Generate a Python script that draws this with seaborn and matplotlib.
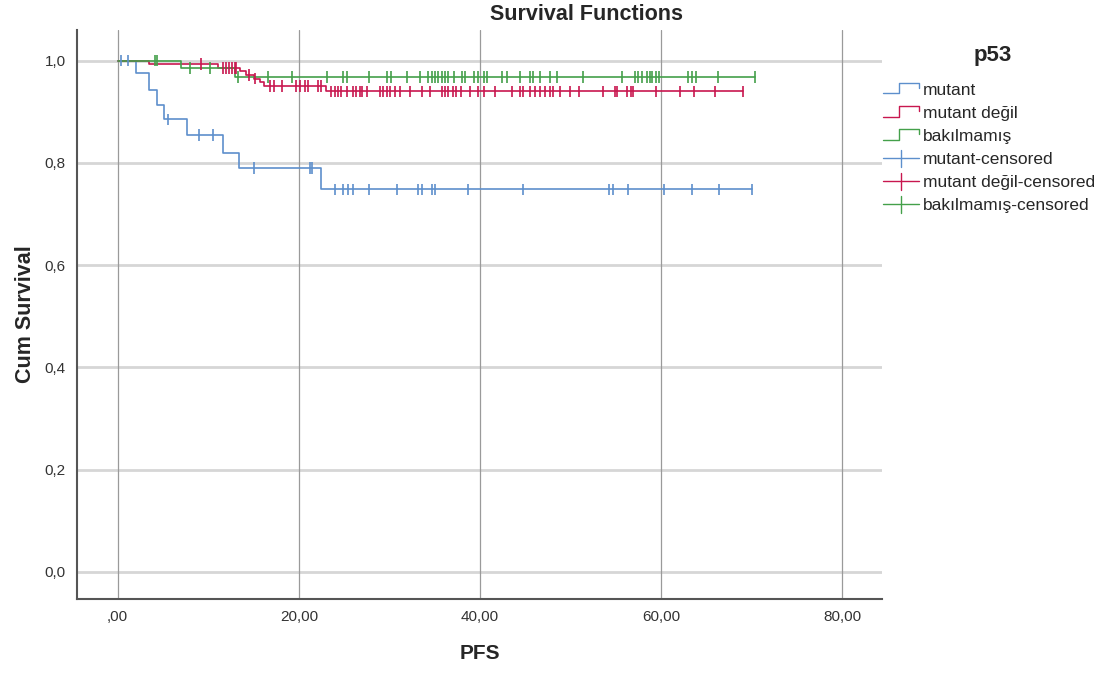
import numpy as np
import pandas as pd
import matplotlib
matplotlib.use("Agg")
import matplotlib.pyplot as plt
import seaborn as sns
from matplotlib.lines import Line2D
from matplotlib.legend_handler import HandlerBase

# ---------------- data ----------------
groups = ["mutant", "mutant değil", "bakılmamış"]

mutant_step_t = [0.0, 2.0, 3.5, 4.3, 5.1, 7.7, 11.6, 13.4, 22.4]
mutant_step_s = [1.0, 0.976, 0.943, 0.914, 0.885, 0.855, 0.819, 0.790, 0.748]
mutant_end = 70.0
mutant_cens = [0.4, 1.1, 5.6, 9.0, 10.5, 15.1, 21.2, 21.4, 24.0, 24.9, 25.4, 26.0,
               27.8, 30.8, 33.2, 33.6, 34.7, 35.0, 38.7, 44.8, 54.3, 54.7, 56.3,
               60.3, 63.4, 66.4, 70.0]

degil_step_t = [0.0, 3.5, 11.1, 13.5, 14.2, 15.0, 15.7, 16.1, 23.0]
degil_step_s = [1.0, 0.994, 0.986, 0.979, 0.972, 0.965, 0.958, 0.950, 0.940]
degil_end = 69.1
degil_cens = [9.2, 11.6, 12.0, 12.3, 12.6, 12.9, 13.1, 14.5, 15.2, 16.8, 17.3, 18.1,
              19.7, 20.1, 20.7, 21.0, 22.1, 22.5, 23.6, 24.0, 24.3, 24.7, 25.3,
              26.0, 26.3, 26.7, 27.0, 27.5, 29.0, 29.3, 29.7, 30.1, 30.6, 31.2,
              32.3, 33.6, 34.5, 35.8, 36.1, 36.5, 37.0, 37.4, 37.9, 38.9, 39.8,
              40.4, 41.7, 43.5, 44.4, 44.8, 45.5, 46.1, 46.6, 47.2, 47.7, 48.1,
              48.8, 49.9, 50.9, 53.6, 54.9, 55.1, 56.2, 56.7, 56.9, 59.4, 62.1,
              63.6, 65.9, 69.1]

bak_step_t = [0.0, 7.0, 13.0]
bak_step_s = [1.0, 0.986, 0.968]
bak_end = 70.4
bak_cens = [4.1, 4.3, 8.0, 10.2, 13.3, 16.6, 19.2, 23.1, 24.9, 25.3, 27.8, 29.7,
            30.2, 31.9, 33.4, 34.3, 34.7, 35.0, 35.4, 35.8, 36.1, 36.5, 37.1,
            38.0, 38.3, 39.3, 39.8, 40.4, 40.8, 42.4, 43.0, 44.4, 45.5, 45.9,
            46.6, 47.7, 48.5, 51.4, 55.7, 57.1, 57.5, 57.9, 58.4, 58.8, 59.0,
            59.4, 59.8, 63.0, 63.4, 63.9, 66.3, 70.4]

x_ticks = [0, 20, 40, 60, 80]
x_ticklabels = [",00", "20,00", "40,00", "60,00", "80,00"]
y_ticks = [0.0, 0.2, 0.4, 0.6, 0.8, 1.0]
y_ticklabels = ["0,0", "0,2", "0,4", "0,6", "0,8", "1,0"]

colors = {"mutant": "#5d8fcc", "mutant değil": "#c8174f", "bakılmamış": "#44a04a"}

# ---------------- build frames ----------------
step_defs = {
    "mutant": (mutant_step_t, mutant_step_s, mutant_end, mutant_cens),
    "mutant değil": (degil_step_t, degil_step_s, degil_end, degil_cens),
    "bakılmamış": (bak_step_t, bak_step_s, bak_end, bak_cens),
}
line_rows, cens_rows = [], []
for g, (st, ss, end, cens) in step_defs.items():
    for t, s in zip(st + [end], ss + [ss[-1]]):
        line_rows.append({"t": t, "S": s, "group": g})
    st_arr = np.array(st)
    for c in cens:
        idx = np.searchsorted(st_arr, c, side="right") - 1
        cens_rows.append({"t": c, "S": ss[idx], "group": g})
lines_df = pd.DataFrame(line_rows)
cens_df = pd.DataFrame(cens_rows)

# ---------------- plot ----------------
sns.set_theme(style="white")
plt.rcParams["font.family"] = ["Liberation Sans", "DejaVu Sans"]

fig = plt.figure(figsize=(11.06, 6.75), dpi=100)
ax = fig.add_axes([0.0696, 0.1126, 0.7279, 0.843])

# grid
for yv in y_ticks:
    ax.axhline(yv, color="#d6d6d6", lw=2.0, zorder=0)
for xv in x_ticks:
    ax.axvline(xv, color="#9a9a9a", lw=0.9, zorder=0)

sns.lineplot(data=lines_df, x="t", y="S", hue="group", palette=colors,
             drawstyle="steps-post", estimator=None, sort=False, legend=False,
             lw=1.2, ax=ax, zorder=3)
sns.scatterplot(data=cens_df, x="t", y="S", hue="group", palette=colors,
                marker="|", s=70, linewidths=1.2, legend=False, ax=ax, zorder=4)

ax.set_xlim(-4.5, 84.4)
ax.set_ylim(-0.053, 1.06)
ax.set_xticks(x_ticks)
ax.set_xticklabels(x_ticklabels)
ax.set_yticks(y_ticks)
ax.set_yticklabels(y_ticklabels)
ax.tick_params(axis="both", length=0, labelsize=11, colors="#333333")
ax.tick_params(axis="x", pad=8)
ax.tick_params(axis="y", pad=8)

for side in ["top", "right"]:
    ax.spines[side].set_visible(False)
for side in ["left", "bottom"]:
    ax.spines[side].set_color("#555555")
    ax.spines[side].set_linewidth(1.5)

ax.set_xlabel("PFS", fontsize=15, fontweight="bold", labelpad=14)
ax.set_ylabel("Cum Survival", fontsize=15.5, fontweight="bold", labelpad=6)
fig.text(0.53, 0.978, "Survival Functions", ha="center", va="center",
         fontsize=15.5, fontweight="bold")


# ---------------- legend ----------------
class StepHandler(HandlerBase):
    def create_artists(self, legend, orig_handle, xdescent, ydescent,
                       width, height, fontsize, trans):
        x0 = -xdescent
        y0 = -ydescent
        xs = [x0, x0 + width * 0.45, x0 + width * 0.45, x0 + width, x0 + width]
        ys = [y0 + height * 0.1, y0 + height * 0.1, y0 + height * 0.95,
              y0 + height * 0.95, y0 + height * 0.55]
        ln = Line2D(xs, ys, color=orig_handle.get_color(), lw=1.0, transform=trans)
        return [ln]


class CensHandler(HandlerBase):
    def create_artists(self, legend, orig_handle, xdescent, ydescent,
                       width, height, fontsize, trans):
        x0 = -xdescent
        y0 = -ydescent
        h = Line2D([x0, x0 + width], [y0 + height * 0.5] * 2,
                   color=orig_handle.get_color(), lw=1.0, transform=trans)
        v = Line2D([x0 + width * 0.5] * 2, [y0 - height * 0.2, y0 + height * 1.2],
                   color=orig_handle.get_color(), lw=1.0, transform=trans)
        return [h, v]


class StepLine(Line2D):
    pass


class CensLine(Line2D):
    pass


handles, labels = [], []
for g in groups:
    handles.append(StepLine([], [], color=colors[g]))
    labels.append(g)
for g in groups:
    handles.append(CensLine([], [], color=colors[g]))
    labels.append(g + "-censored")

leg = fig.legend(handles, labels, loc="upper left", bbox_to_anchor=(0.792, 0.888),
                 frameon=False, fontsize=12.5, handlelength=2.1,
                 handletextpad=0.2, labelspacing=0.46, borderaxespad=0.0,
                 handler_map={StepLine: StepHandler(), CensLine: CensHandler()})
fig.text(0.898, 0.918, "p53", ha="center", va="center", fontsize=16,
         fontweight="bold")

fig.savefig("out.png", dpi=100)
